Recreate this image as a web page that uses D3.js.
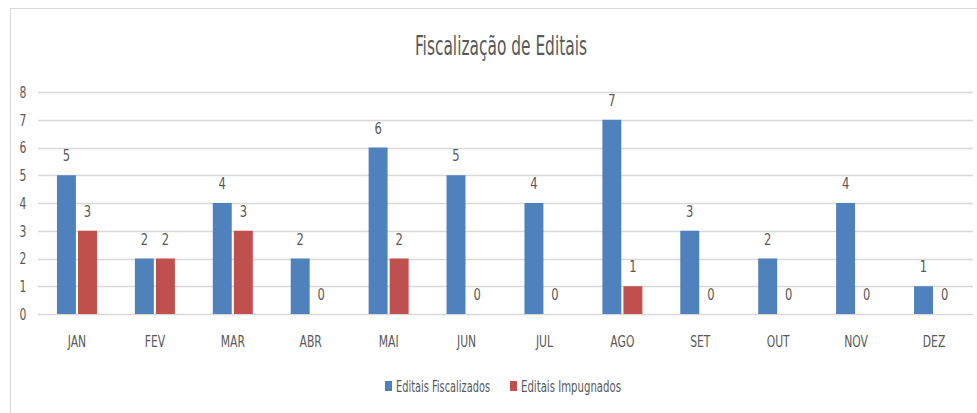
<!DOCTYPE html>
<html><head><meta charset="utf-8">
<script src="https://cdn.jsdelivr.net/npm/d3@7"></script>
<style>
body{margin:0;background:#fff;}
text{font-family:"DejaVu Sans Condensed","DejaVu Sans",sans-serif;font-stretch:condensed;fill:#595959;}
</style></head>
<body><svg id="c" width="977" height="413"></svg>
<script>
const months = ["JAN","FEV","MAR","ABR","MAI","JUN","JUL","AGO","SET","OUT","NOV","DEZ"];
const fiscalizados = [5,2,4,2,6,5,4,7,3,2,4,1];
const impugnados = [3,2,3,0,2,0,0,1,0,0,0,0];
const seriesNames = ["Editais Fiscalizados","Editais Impugnados"];
const colors = ["#4F81BD","#C0504D"];
const yTicks = [0,1,2,3,4,5,6,7,8];
const title = "Fiscalização de Editais";

const svg = d3.select("#c");
svg.append("rect").attr("x",10.5).attr("y",8.5).attr("width",980).attr("height",420)
  .attr("fill","none").attr("stroke","#d9d9d9");

const x0 = d3.scaleBand().domain(months).range([38,973]).paddingInner(0).paddingOuter(0);
const x1 = d3.scaleBand().domain([0,1]).range([0,40]).paddingInner(0.1);
const y = d3.scaleLinear().domain([0,8]).range([314,92]);

svg.append("g").selectAll("line").data(yTicks).join("line")
  .attr("x1",38).attr("x2",973).attr("y1",d=>Math.round(y(d))+0.5).attr("y2",d=>Math.round(y(d))+0.5)
  .attr("stroke","#d9d9d9").attr("stroke-width",1.5);

const yAxis = d3.axisLeft(y).tickValues(yTicks).tickSize(0).tickPadding(0);
const gy = svg.append("g").attr("transform","translate(23,0)").call(yAxis);
gy.select(".domain").remove();
gy.selectAll("text").style("font-size","15px").attr("fill","#595959").attr("text-anchor","middle").attr("dy","0.36em")
  .attr("transform","scale(0.8,1)").attr("x",0);
gy.selectAll(".tick").each(function(){});

const xAxis = d3.axisBottom(x0).tickSize(0).tickPadding(0);
const gx = svg.append("g").attr("transform","translate(0,336)").call(xAxis);
gx.select(".domain").remove();
gx.selectAll("text").style("font-size","15px").attr("fill","#595959").attr("transform","scale(0.8,1)");

const data = months.map((m,i)=>({m, v:[fiscalizados[i], impugnados[i]]}));
const groups = svg.append("g").selectAll("g").data(data).join("g")
  .attr("transform",d=>`translate(${x0(d.m)+x0.bandwidth()/2-20},0)`);
groups.selectAll("rect").data(d=>d.v.map((v,k)=>({v,k}))).join("rect")
  .attr("x",d=>x1(d.k)).attr("width",x1.bandwidth())
  .attr("y",d=>y(d.v)).attr("height",d=>y(0)-y(d.v))
  .attr("fill",d=>colors[d.k]);
groups.selectAll("text").data(d=>d.v.map((v,k)=>({v,k}))).join("text")
  .attr("transform",d=>`translate(${x1(d.k)+x1.bandwidth()/2},${y(d.v)-14}) scale(0.8,1)`)
  .attr("text-anchor","middle").style("font-size","16px").text(d=>d.v);

svg.append("text").attr("x",415).attr("y",55).attr("textLength",172).attr("lengthAdjust","spacingAndGlyphs")
  .style("font-size","26px").text(title);

const leg = svg.append("g");
const legX = [385,510];
const legW = [94,100];
seriesNames.forEach((n,i)=>{
  leg.append("rect").attr("x",legX[i]).attr("y",381).attr("width",7).attr("height",10).attr("fill",colors[i]);
  leg.append("text").attr("x",legX[i]+11).attr("y",392).attr("textLength",legW[i]).attr("lengthAdjust","spacingAndGlyphs")
    .style("font-size","15px").text(n);
});
</script></body></html>
